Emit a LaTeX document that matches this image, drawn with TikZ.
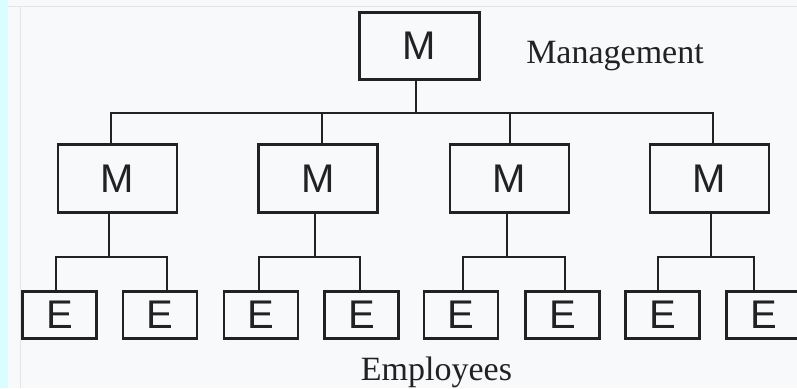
\documentclass[tikz,border=0pt]{standalone}
\usepackage{fontspec}
\setmainfont{Liberation Serif}
\newfontfamily\boxfont{Liberation Sans}
\definecolor{paper}{HTML}{F8F9FA}
\definecolor{strip}{HTML}{DAFDFF}
\definecolor{framegray}{HTML}{E3E5E8}
\definecolor{ink}{HTML}{222222}
\begin{document}
\begin{tikzpicture}[x=1pt,y=-1pt,
  unit/.style={draw=ink,line width=2.6pt,fill=paper,inner sep=0pt,
    font=\boxfont\fontsize{40}{40}\selectfont,text=ink},
  mbox/.style={unit,minimum width=119pt,minimum height=68pt},
  topbox/.style={unit,minimum width=120pt,minimum height=67pt},
  ebox/.style={unit,minimum width=74pt,minimum height=47pt},
  link/.style={draw=ink,line width=2.6pt},
  caption/.style={font=\fontsize{34}{34}\selectfont,text=ink,anchor=base,inner sep=0pt}]
\useasboundingbox (0,0) rectangle (797,388);
\clip (0,0) rectangle (797,388);

% page background, side strip and panel frame
\fill[paper] (0,0) rectangle (797,388);
\fill[strip] (0,0) rectangle (8,388);
\draw[framegray,line width=1pt] (8,6.5) -- (797,6.5);
\draw[framegray,line width=1pt] (20,6.5) -- (20,388);

% management levels
\node[topbox] (top) at (419.5,46) {M};
\node[mbox] (m1) at (117.5,178.5) {M};
\node[mbox] (m2) at (318,178.5) {M};
\node[mbox] (m3) at (509.5,178.5) {M};
\node[mbox] (m4) at (709.5,178.5) {M};

% employees
\node[ebox] (e1) at (59.5,315) {E};
\node[ebox] (e2) at (160,315) {E};
\node[ebox] (e3) at (261,315) {E};
\node[ebox] (e4) at (361.5,315) {E};
\node[ebox] (e5) at (461,315) {E};
\node[ebox] (e6) at (562.5,315) {E};
\node[ebox] (e7) at (662.5,315) {E};
\node[ebox] (e8) at (763.5,315) {E};

% labels
\node[caption] (mgmt) at (615,63) {Management};
\node[caption] (emp) at (436.5,380) {Employees};

% top manager to middle managers
\draw[link] ([xshift=-3.5pt]top.south) -- ++(0,32) -| ([xshift=-6.5pt]m1.north);
\draw[link] ([xshift=-3.5pt]top.south) -- ++(0,32) -| ([xshift=4pt]m2.north);
\draw[link] ([xshift=-3.5pt]top.south) -- ++(0,32) -| ([xshift=0.5pt]m3.north);
\draw[link] ([xshift=-3.5pt]top.south) -- ++(0,32) -| ([xshift=3.5pt]m4.north);

% middle managers to employees
\draw[link] ([xshift=-8.5pt]m1.south) -- ++(0,43) -| ([xshift=-3.5pt]e1.north);
\draw[link] ([xshift=-8.5pt]m1.south) -- ++(0,43) -| ([xshift=7pt]e2.north);
\draw[link] ([xshift=-3pt]m2.south) -- ++(0,43) -| ([xshift=-2pt]e3.north);
\draw[link] ([xshift=-3pt]m2.south) -- ++(0,43) -| ([xshift=-1.5pt]e4.north);
\draw[link] ([xshift=-2.5pt]m3.south) -- ++(0,43) -| ([xshift=2pt]e5.north);
\draw[link] ([xshift=-2.5pt]m3.south) -- ++(0,43) -| ([xshift=2.5pt]e6.north);
\draw[link] ([xshift=1.5pt]m4.south) -- ++(0,43) -| ([xshift=-4.5pt]e7.north);
\draw[link] ([xshift=1.5pt]m4.south) -- ++(0,43) -| ([xshift=-9.5pt]e8.north);
\end{tikzpicture}
\end{document}
